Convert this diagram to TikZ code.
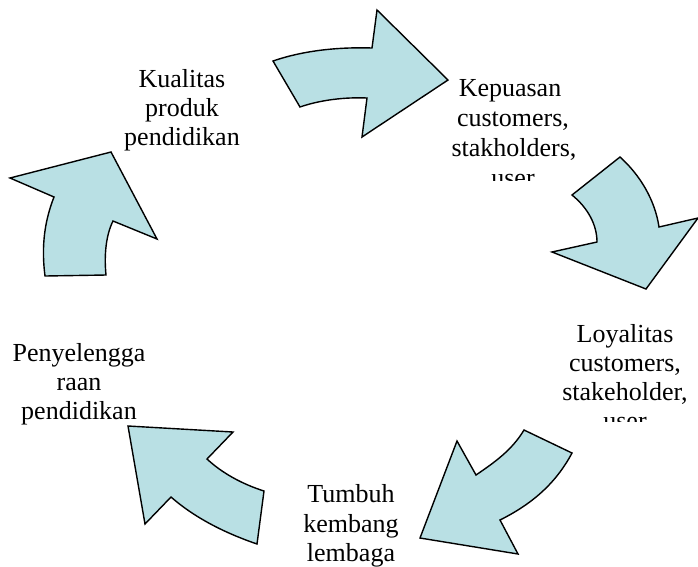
\documentclass[tikz,border=0pt]{standalone}
\usepackage{fontspec}
\setmainfont{Liberation Serif}
\definecolor{arrfill}{RGB}{185,224,228}
\begin{document}
\begin{tikzpicture}[x=1pt,y=-1pt,
  arr/.style={fill=arrfill,draw=black,line width=1.4pt,line join=miter},
  lbl/.style={anchor=base,inner sep=0pt,font=\fontsize{26}{29}\selectfont}]
\useasboundingbox (0,0) rectangle (698,566);
% arrow 1 (top)
\draw[arr] (273,61) .. controls (305,50) and (340,47) .. (372,48) -- (377,10) -- (448,80) -- (362,137) -- (367,98)
  .. controls (345,97) and (320,100) .. (300,107) -- cycle;
% arrow 2 (right top)
\draw[arr] (620,157) .. controls (640,175) and (655,200) .. (659,227) -- (698,218) -- (646,289) -- (552,252) -- (597,242)
  .. controls (597,225) and (588,208) .. (572,195) -- cycle;
% arrow 3 (bottom right)
\draw[arr] (524,430) -- (572,453) .. controls (555,485) and (530,505) .. (500,520) -- (518,554) -- (420,538) -- (457,441) -- (476,475)
  .. controls (495,462) and (512,450) .. (524,430) -- cycle;
% arrow 4 (bottom left)
\draw[arr] (128,426) -- (233,432) -- (207,459) .. controls (222,473) and (242,484) .. (264,491) -- (257,544)
  .. controls (225,533) and (195,518) .. (171,497) -- (145,524) -- cycle;
% arrow 5 (left)
\draw[arr] (111,152) -- (157,239) -- (113,221) .. controls (106,235) and (104,255) .. (106,275) -- (45,276)
  .. controls (41,245) and (45,220) .. (54,197) -- (10,178) -- cycle;
% labels
\node[lbl] (ka) at (182,87) {Kualitas};
\node[lbl] (kb) at (182,116) {produk};
\node[lbl] (kc) at (182,145) {pendidikan};
\begin{scope}
\clip (440,60) rectangle (600,180);
\node[lbl] (pa) at (510,96) {Kepuasan};
\node[lbl] (pb) at (513,126) {customers,};
\node[lbl] (pc) at (514,156) {stakholders,};
\node[lbl] (pd) at (513,186) {user};
\end{scope}
\begin{scope}
\clip (540,300) rectangle (698,421);
\node[lbl] (la) at (625,342) {Loyalitas};
\node[lbl] (lb) at (625,371) {customers,};
\node[lbl] (lc) at (625,400) {stakeholder,};
\node[lbl] (ld) at (625,429) {user};
\end{scope}
\node[lbl] (ta) at (351,502) {Tumbuh};
\node[lbl] (tb) at (351,532) {kembang};
\node[lbl] (tc) at (351,561) {lembaga};
\node[lbl] (na) at (79,361) {Penyelengga};
\node[lbl] (nb) at (79,390) {raan};
\node[lbl] (nc) at (79,419) {pendidikan};
\end{tikzpicture}
\end{document}
